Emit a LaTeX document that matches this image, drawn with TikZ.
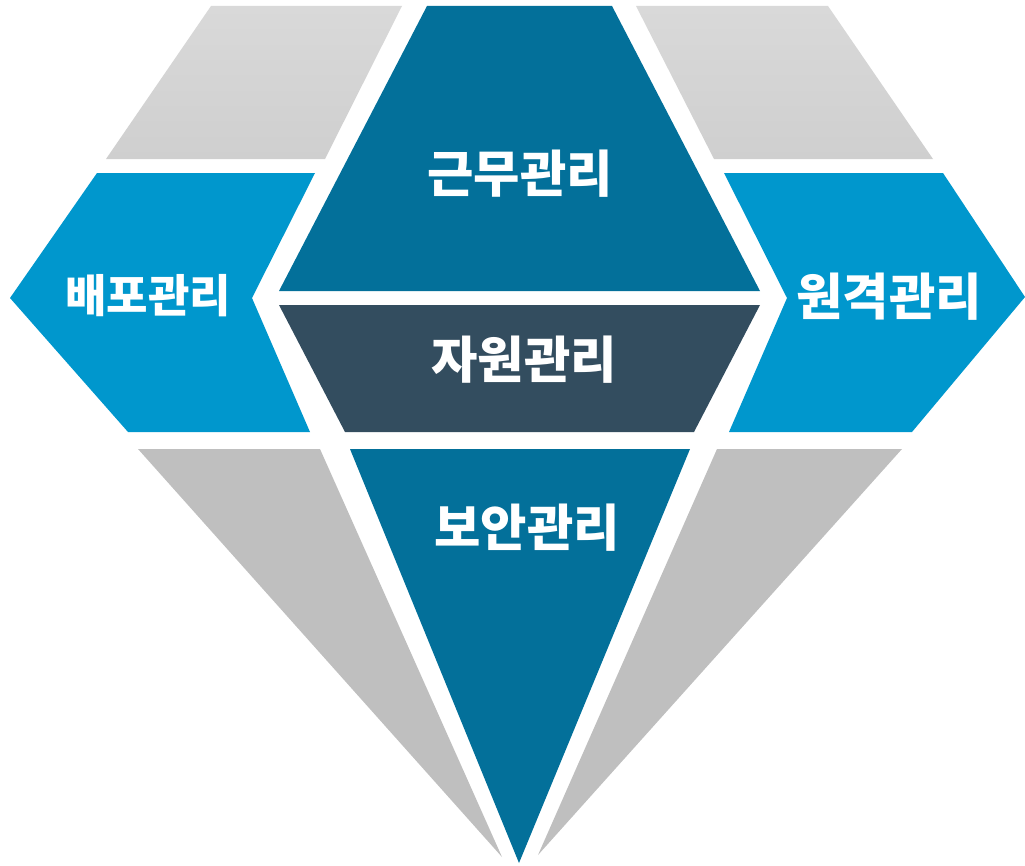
\documentclass[tikz,border=0pt]{standalone}
\usepackage{tikz}
\usepackage{fontspec}
\newfontfamily\kofont{Noto Sans CJK KR}
\definecolor{gemtop}{HTML}{D9D9D9}
\definecolor{gemtopb}{HTML}{CFCFCF}
\definecolor{gembot}{HTML}{BFBFBF}
\definecolor{gemteal}{HTML}{03709A}
\definecolor{gemblue}{HTML}{0097CD}
\definecolor{gemslate}{HTML}{334D5F}
\tikzset{facet label/.style={text=white, font=\kofont\bfseries\fontsize{38}{43}\selectfont}}

\begin{document}
\begin{tikzpicture}[scale=0.265]
\tikzstyle{every node}+=[inner sep=0pt]
\useasboundingbox (0,0) rectangle (102.5,-86.6);
% top grey facets
\shade [top color=gemtop, bottom color=gemtopb] (21.1,-0.6) -- (40.2,-0.6) -- (32.5,-15.9) -- (10.6,-15.9) -- cycle;
\shade [top color=gemtop, bottom color=gemtopb] (63.6,-0.6) -- (82.8,-0.6) -- (93.3,-15.9) -- (71.4,-15.9) -- cycle;
% bottom grey facets
\fill [gembot] (13.8,-44.9) -- (32,-44.9) -- (50.2,-85.7) -- cycle;
\fill [gembot] (71.7,-44.9) -- (90.2,-44.9) -- (53.8,-85.5) -- cycle;
% side arrows
\fill [gemblue] (9.7,-17.3) -- (31.5,-17.3) -- (25.2,-29.8) -- (31,-43.2) -- (12.8,-43.2) -- (1,-29.8) -- cycle;
\fill [gemblue] (72.4,-17.3) -- (94.3,-17.3) -- (102.5,-29.7) -- (91.2,-43.2) -- (72.9,-43.2) -- (78.7,-29.8) -- cycle;
% centre facets
\fill [gemteal] (42.7,-0.6) -- (61.2,-0.6) -- (76,-29.1) -- (27.9,-29.1) -- cycle;
\fill [gemslate] (27.9,-30.5) -- (76,-30.5) -- (69.4,-43.2) -- (34.5,-43.2) -- cycle;
\fill [gemteal] (35,-44.9) -- (69,-44.9) -- (51.9,-86.3) -- cycle;
% labels
\draw (52,-17.4) node [facet label] (work) {근무관리};
\draw (52.4,-36) node [facet label] (resource) {자원관리};
\draw (52.7,-52.8) node [facet label] (security) {보안관리};
\draw (14.8,-29.6) node [facet label, font=\kofont\bfseries\fontsize{34}{39}\selectfont] (deploy) {배포관리};
\draw (88.9,-29.7) node [facet label] (remote) {원격관리};
\end{tikzpicture}
\end{document}
